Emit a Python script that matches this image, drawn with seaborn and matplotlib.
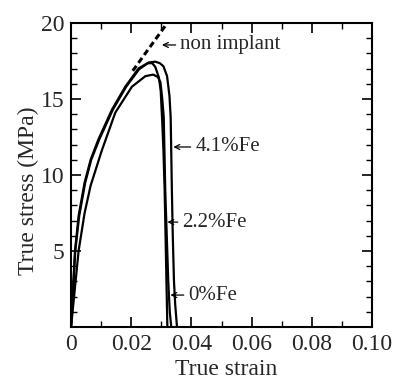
import numpy as np
import pandas as pd
import seaborn as sns
import matplotlib.pyplot as plt
from matplotlib.ticker import MultipleLocator, FuncFormatter

# curves (strain, stress in MPa)
strain_41 = [0, 0.0005, 0.0013, 0.0025, 0.0045, 0.0065, 0.009, 0.0136, 0.018, 0.0224, 0.0258,
             0.028, 0.0295, 0.0307, 0.0319, 0.0327, 0.0331, 0.0335, 0.0338, 0.0342, 0.0346, 0.0352]
stress_41 = [0, 2, 5, 7.3, 9.5, 11, 12.3, 14.3, 15.8, 17.0, 17.4,
             17.45, 17.35, 17.15, 16.5, 15.2, 13.8, 9.0, 6.0, 3.0, 1.5, 0]

strain_22 = [0, 0.0006, 0.0014, 0.0027, 0.0047, 0.0067, 0.0093, 0.0139, 0.0183, 0.0226, 0.0255,
             0.027, 0.028, 0.0292, 0.0298, 0.0303, 0.0307, 0.0311, 0.0314, 0.0317, 0.032]
stress_22 = [0, 2, 5, 7.3, 9.5, 11, 12.3, 14.3, 15.8, 16.95, 17.35,
             17.35, 17.1, 16.4, 15.5, 13.5, 11.6, 9.0, 6.0, 3.0, 0]

strain_0 = [0, 0.001, 0.0025, 0.0045, 0.0065, 0.0102, 0.0147, 0.0202, 0.0247, 0.0273,
            0.0288, 0.0297, 0.0303, 0.0308, 0.0313, 0.0318, 0.0323, 0.0328, 0.0333]
stress_0 = [0, 2, 5, 7.5, 9.3, 11.6, 14.1, 15.8, 16.5, 16.6,
            16.45, 16.1, 15.0, 13.8, 9.0, 6.0, 3.0, 1.0, 0]

strain_non = [0.0205, 0.032]
stress_non = [16.85, 20.0]

labels = ["non implant", "4.1%Fe", "2.2%Fe", "0%Fe"]
tips = [(0.0302, 18.55), (0.034, 11.84), (0.032, 6.9), (0.033, 2.1)]
text_pos = [(0.0363, 18.55), (0.0413, 11.84), (0.037, 6.9), (0.039, 2.1)]

sns.set_theme(style="ticks")
plt.rcParams['font.family'] = ['Liberation Serif', 'DejaVu Serif']
plt.rcParams['mathtext.fontset'] = 'stix'

fig = plt.figure(figsize=(3.97, 3.82), dpi=100)
ax = fig.add_axes([0.179, 0.144, 0.758, 0.796])

for sx, sy in [(strain_41, stress_41), (strain_22, stress_22), (strain_0, stress_0)]:
    sns.lineplot(x=sx, y=sy, sort=False, color='black', lw=1.6, ax=ax)
sns.lineplot(x=strain_non, y=stress_non, sort=False, color='black', lw=2.2,
             linestyle=(0, (2.0, 1.2)), ax=ax)

for lab, tip, pos in zip(labels, tips, text_pos):
    ax.annotate(lab, xy=tip, xytext=pos, fontsize=15, va='center', ha='left',
                arrowprops=dict(arrowstyle='->', color='black', lw=0.9,
                                shrinkA=1, shrinkB=0, mutation_scale=9))

ax.set_xlim(0, 0.10)
ax.set_ylim(0, 20)
ax.xaxis.set_major_locator(MultipleLocator(0.02))
ax.xaxis.set_minor_locator(MultipleLocator(0.01))
ax.yaxis.set_major_locator(MultipleLocator(5))
ax.yaxis.set_minor_locator(MultipleLocator(1))
ax.xaxis.set_major_formatter(FuncFormatter(lambda v, p: "0" if abs(v) < 1e-9 else f"{v:.2f}"))
ax.yaxis.set_major_formatter(FuncFormatter(lambda v, p: "" if abs(v) < 1e-9 else f"{v:.0f}"))
ax.tick_params(which='both', direction='in', top=True, right=True, labelsize=17, color='black')
ax.tick_params(which='major', length=7, width=1.2)
ax.tick_params(which='minor', length=4, width=1.0)
ax.tick_params(axis='x', pad=5)
ax.tick_params(axis='y', pad=5)
for s in ax.spines.values():
    s.set_linewidth(1.5)
    s.set_color('black')

ax.set_xlabel('True strain', fontsize=17)
ax.set_ylabel('True stress (MPa)', fontsize=17)
ax.xaxis.set_label_coords(0.515, -0.105)
ax.yaxis.set_label_coords(-0.106, 0.447)

fig.savefig('out.png', dpi=100)
